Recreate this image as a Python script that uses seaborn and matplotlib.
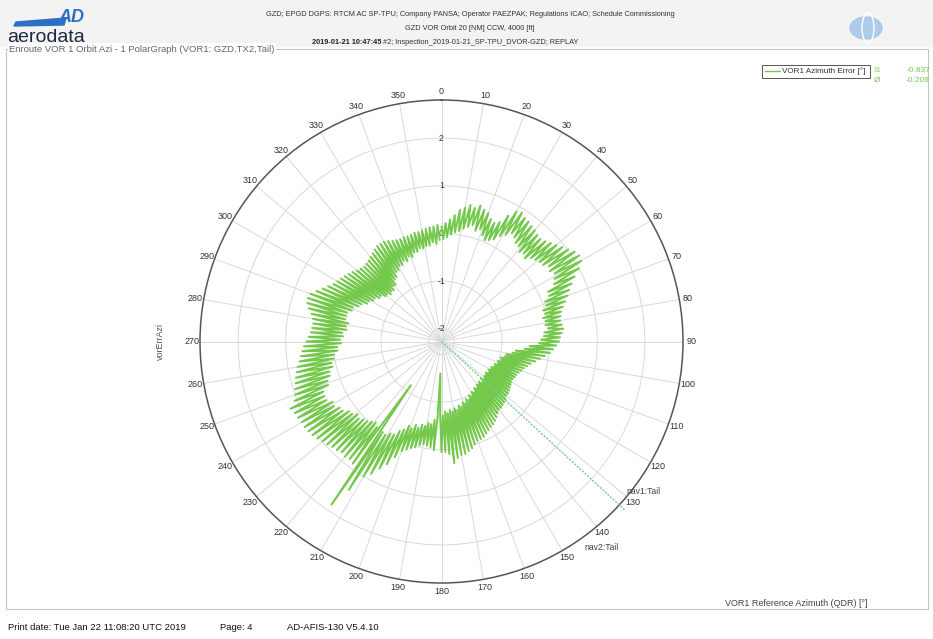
import numpy as np
import matplotlib
matplotlib.use("Agg")
import matplotlib.pyplot as plt
import seaborn as sns
import pandas as pd
from matplotlib.patches import Rectangle, Circle, Polygon, Ellipse

# %%
# VOR1 azimuth error, one value per degree of QDR
azimuth_deg = list(range(0, 360))
azi_error = [
    # 0-59
    0.15, -0.12, 0.22, -0.08, 0.30, -0.02, 0.40, 0.04, 0.52, 0.08,
    0.58, 0.14, 0.66, 0.20, 0.62, 0.26, 0.70, 0.16, 0.64, 0.22,
    0.60, 0.12, 0.50, 0.04, 0.46, 0.08, 0.52, 0.14, 0.72, 0.26,
    0.88, 0.34, 0.92, 0.44, 0.86, 0.40, 0.84, 0.32, 0.80, 0.30,
    0.78, 0.22, 0.74, 0.26, 0.72, 0.20, 0.76, 0.30, 0.82, 0.34,
    0.88, 0.38, 0.95, 0.40, 1.02, 0.48, 1.10, 0.44, 1.14, 0.50,
    # 60-119
    1.12, 0.44, 1.00, 0.38, 0.84, 0.20, 0.72, 0.18, 0.62, 0.06,
    0.55, 0.05, 0.46, -0.04, 0.38, -0.02, 0.32, -0.08, 0.28, -0.05,
    0.26, -0.06, 0.28, -0.02, 0.30, -0.10, 0.26, -0.12, 0.22, -0.18,
    0.20, -0.22, 0.14, -0.42, 0.08, -0.52, 0.02, -0.70, -0.08, -0.76,
    -0.17, -0.88, -0.26, -0.90, -0.34, -0.98, -0.40, -0.96, -0.45, -1.02,
    -0.48, -1.00, -0.52, -1.06, -0.55, -1.04, -0.56, -1.10, -0.58, -1.08,
    # 120-179
    -0.58, -1.12, -0.56, -1.08, -0.54, -1.14, -0.52, -1.10, -0.50, -1.12,
    -0.50, -1.08, -0.46, -1.14, -0.44, -1.06, -0.42, -1.12, -0.40, -1.08,
    -0.40, -1.10, -0.36, -1.04, -0.30, -1.08, -0.26, -1.00, -0.22, -1.04,
    -0.20, -0.96, -0.16, -1.00, -0.12, -0.92, -0.08, -0.96, -0.06, -0.88,
    -0.05, -0.92, 0.00, -0.84, 0.06, -0.88, 0.10, -0.80, 0.14, -0.84,
    0.15, -0.78, 0.20, -0.82, 0.30, -0.76, 0.10, -0.80, 0.05, -0.72,
    # 180-239
    0.05, -0.70, -1.60, -0.66, 0.02, -0.62, -0.04, -0.52, -0.06, -0.54,
    -0.08, -0.46, -0.04, -0.48, 0.02, -0.40, 0.06, -0.44, 0.12, -0.34,
    0.18, -0.38, 0.35, -0.26, 0.55, -0.20, 0.70, -0.08, 0.88, -0.06,
    1.00, 0.02, 1.40, 0.00, 1.86, -1.15, 0.90, -0.02, 0.86, -0.08,
    0.89, -0.04, 0.86, 0.02, 0.90, 0.04, 0.92, 0.10, 0.96, 0.06,
    0.99, 0.14, 1.04, 0.16, 1.08, 0.26, 1.10, 0.28, 1.12, 0.36,
    # 240-299
    1.12, 0.34, 1.14, 0.44, 1.16, 0.44, 1.20, 0.42, 1.06, 0.28,
    1.00, 0.26, 0.96, 0.18, 0.92, 0.16, 0.88, 0.08, 0.84, 0.08,
    0.80, 0.02, 0.74, 0.00, 0.70, -0.08, 0.66, -0.08, 0.62, -0.16,
    0.57, -0.14, 0.52, -0.20, 0.48, -0.18, 0.46, -0.26, 0.45, -0.24,
    0.47, -0.28, 0.52, -0.20, 0.60, -0.20, 0.66, -0.20, 0.68, -0.28,
    0.66, -0.28, 0.56, -0.38, 0.46, -0.42, 0.38, -0.52, 0.30, -0.53,
    # 300-359
    0.26, -0.60, 0.22, -0.60, 0.18, -0.68, 0.14, -0.68, 0.10, -0.76,
    0.05, -0.76, 0.02, -0.82, -0.02, -0.78, 0.00, -0.80, 0.02, -0.73,
    0.05, -0.74, 0.08, -0.64, 0.12, -0.62, 0.15, -0.53, 0.15, -0.52,
    0.15, -0.46, 0.12, -0.47, 0.08, -0.40, 0.06, -0.44, 0.05, -0.36,
    0.06, -0.40, 0.05, -0.32, 0.06, -0.32, 0.08, -0.26, 0.08, -0.28,
    0.10, -0.24, 0.12, -0.24, 0.14, -0.18, 0.15, -0.22, 0.18, -0.14,
]

nav1_azimuth = 132.6
theta_ticks = list(range(0, 360, 10))
radial_ticks = [-2, -1, 0, 1, 2]
r_min, r_max = -2.27, 2.8

stat_labels = ["S:", "Ø"]
stat_values = ["-0.837", "-0.209"]

W, H = 933, 639
green = "#74c84c"


def fx(x):
    return x / W


def fy(y):
    return 1 - y / H


# %%
sns.set_theme(style="white")
plt.rcParams["font.family"] = ["Liberation Sans", "DejaVu Sans"]

fig = plt.figure(figsize=(W / 100, H / 100), dpi=100)

# header strip
fig.patches.append(Rectangle((0, fy(46)), 1, 46 / H, transform=fig.transFigure,
                             color="#f3f3f3", zorder=0))
hdr = dict(ha="center", va="center", fontsize=5.3, color="#333333")
fig.text(fx(470), fy(15), "GZD; EPGD DGPS: RTCM AC SP-TPU; Company PANSA; Operator PAEZPAK; "
         "Regulations ICAO; Schedule Commissioning", **hdr)
fig.text(fx(470), fy(29), "GZD VOR Orbit 20 [NM] CCW, 4000 [ft]", **hdr)
fig.text(fx(381), fy(42), "2019-01-21 10:47:45", ha="right", va="center", fontsize=5.3,
         color="#222222", fontweight="bold")
fig.text(fx(383), fy(42), "#2; Inspection_2019-01-21_SP-TPU_DVOR-GZD; REPLAY",
         ha="left", va="center", fontsize=5.3, color="#333333")

# logo
fig.text(fx(7), fy(37), "aerodata", ha="left", va="center", fontsize=14, color="#1d2940")
fig.patches.append(Polygon([[fx(16), fy(22)], [fx(66), fy(18)], [fx(64), fy(25)], [fx(14), fy(26)]],
                           closed=True, transform=fig.transFigure, color="#2d6fc4"))
fig.text(fx(58), fy(17), "AD", ha="left", va="center", fontsize=13, color="#2d6fc4",
         fontweight="bold", fontstyle="italic")
fig.patches.append(Circle((fx(866), fy(28)), 16 / W, transform=fig.transFigure,
                          color="#9ec2e6", alpha=0.8))
fig.patches.append(Ellipse((fx(868), fy(28)), 12 / W, 30 / H, transform=fig.transFigure,
                           fill=False, ec="white", lw=1))

# panel border with title
fig.patches.append(Rectangle((fx(6), fy(609)), (928 - 6) / W, (609 - 49) / H,
                             transform=fig.transFigure, fill=False, ec="#c4c4c4", lw=0.8))
fig.text(fx(9), fy(49), "Enroute VOR 1 Orbit Azi - 1 PolarGraph (VOR1: GZD.TX2,Tail)",
         ha="left", va="center", fontsize=6.8, color="#666666",
         bbox=dict(fc="white", ec="none", pad=1))

# %%
ax = fig.add_axes([fx(200), 56 / H, 483 / W, 483 / H], projection="polar")
ax.set_theta_zero_location("N")
ax.set_theta_direction(-1)
ax.set_ylim(r_min, r_max)

df = pd.DataFrame({"qdr": np.deg2rad(azimuth_deg), "err": azi_error})
sns.lineplot(data=df, x="qdr", y="err", sort=False, estimator=None, ax=ax,
             color=green, lw=1.4, zorder=3)

# nav1 tail marker
ax.plot([0, np.deg2rad(nav1_azimuth)], [r_min, 2.98], color="#6fd08a", lw=1.0,
        ls=(0, (1.5, 1)), clip_on=False, zorder=4)

ax.set_xticks(np.deg2rad(theta_ticks))
ax.set_xticklabels([str(t) for t in theta_ticks], fontsize=6.5, color="#333333")
ax.tick_params(axis="x", pad=-7)
ax.set_yticks(radial_ticks)
ax.set_yticklabels([])
for v in radial_ticks:
    ax.text(0, v, str(v), ha="center", va="center", fontsize=6.3, color="#333333", zorder=2)
ax.grid(True, color="#d9d9d9", lw=0.7)
ax.spines["polar"].set_color("#555555")
ax.spines["polar"].set_linewidth(1.1)
ax.set_xlabel("")
ax.set_ylabel("")

fig.text(fx(626), fy(491), "nav1:Tail", ha="left", va="center", fontsize=6.2, color="#444444")
fig.text(fx(584), fy(547), "nav2:Tail", ha="left", va="center", fontsize=6.2, color="#444444")

# axis titles
fig.text(fx(160), fy(341), "vorErrAzi", rotation=90, ha="center", va="center",
         fontsize=6.5, color="#555555")
fig.text(fx(868), fy(604), "VOR1 Reference Azimuth (QDR) [°]", ha="right", va="center",
         fontsize=6.5, color="#444444")

# legend box and statistics
fig.patches.append(Rectangle((fx(762), fy(78)), 108 / W, 13 / H, transform=fig.transFigure,
                             fill=False, ec="#555555", lw=0.7))
fig.lines.append(plt.Line2D([fx(765), fx(780)], [fy(71), fy(71)], transform=fig.transFigure,
                            color=green, lw=1))
fig.text(fx(782), fy(71), "VOR1 Azimuth Error [°]", ha="left", va="center", fontsize=5.9,
         color="#333333")
for i, (lab, val) in enumerate(zip(stat_labels, stat_values)):
    fig.text(fx(874), fy(70 + 10 * i), lab, ha="left", va="center", fontsize=6, color=green)
    fig.text(fx(930), fy(70 + 10 * i), val, ha="right", va="center", fontsize=6, color=green)

# footer
foot = dict(ha="left", va="center", fontsize=6.8, color="#111111")
fig.text(fx(8), fy(628), "Print date: Tue Jan 22 11:08:20 UTC 2019", **foot)
fig.text(fx(220), fy(628), "Page: 4", **foot)
fig.text(fx(287), fy(628), "AD-AFIS-130 V5.4.10", **foot)

fig.savefig("out.png", dpi=100)
